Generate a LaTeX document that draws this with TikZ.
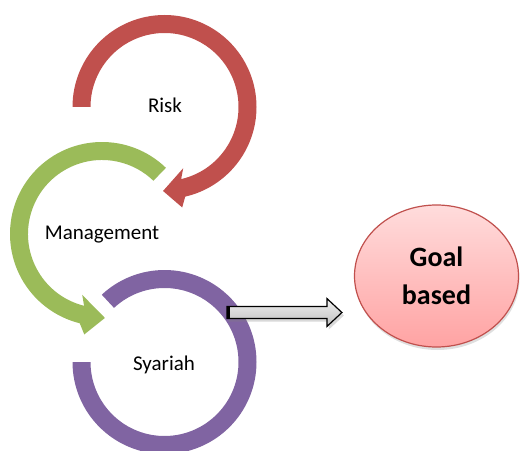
\documentclass[tikz,border=0pt]{standalone}
\usepackage{fontspec}
\setmainfont{Carlito}
\usepackage{xcolor}
\usepackage{tikz}
\usetikzlibrary{calc,shapes,shadows}

\definecolor{riskred}{HTML}{C0504D}
\definecolor{mgmtgreen}{HTML}{9BBB59}
\definecolor{syapurple}{HTML}{8064A2}
\definecolor{goalpink}{HTML}{FFA3A3}
\definecolor{goallight}{HTML}{FFDCDC}

\tikzset{
    ringlabel/.style={font=\fontsize{21}{25}\selectfont, inner sep=0pt},
    goalnode/.style={ellipse, draw=riskred, line width=1.2pt, top color=goallight, bottom color=goalpink,
        minimum width=164pt, minimum height=142pt, inner sep=0pt, align=center,
        font=\fontsize{28}{38}\selectfont\bfseries, drop shadow={opacity=0.25, shadow xshift=1pt, shadow yshift=-3pt}},
    blockarrow/.style={draw=black, line width=1.2pt, top color=black!6, bottom color=black!25,
        drop shadow={opacity=0.3, shadow xshift=2pt, shadow yshift=-3pt}}
}

\begin{document}
\begin{tikzpicture}[x=1pt, y=1pt]
        \useasboundingbox (0,0) rectangle (521,450);
        \coordinate (R) at (164.5,343);
        \coordinate (G) at (102,216);
        \coordinate (P) at (164.5,88);
        % Risk
        \fill[riskred] ($(R)+(180:92)$) arc[start angle=180, end angle=-77, radius=92pt]
            -- ($(R)+(-80:102)$) -- ($(R)+(-91:84)$) -- ($(R)+(-73:64)$)
            -- ($(R)+(-77:74)$) arc[start angle=-77, end angle=180, radius=74pt] -- cycle;
        % Management
        \fill[mgmtgreen] ($(G)+(46:92)$) arc[start angle=46, end angle=256, radius=92pt]
            -- ($(G)+(260:102)$) -- ($(G)+(272:84)$) -- ($(G)+(252:64)$)
            -- ($(G)+(256:74)$) arc[start angle=256, end angle=46, radius=74pt] -- cycle;
        % Syariah
        \fill[syapurple] ($(P)+(180:92)$) arc[start angle=180, end angle=493, radius=92pt]
            -- ($(P)+(493:74)$) arc[start angle=493, end angle=180, radius=74pt] -- cycle;
        \node[ringlabel] (risk) at (165,345) {Risk};
        \node[ringlabel] (mgmt) at (102,215) {Management};
        \node[ringlabel] (syariah) at (164,85) {Syariah};
        \node[goalnode] (goal) at (436.5,174) {Goal\\based};
        \coordinate (out) at (227,137.5);
        \coordinate (in) at ($(goal.west)+(-12,-36.5)$);
        \draw[blockarrow] ($(out)+(0,6)$) -- ($(in)+(-15,6)$) -- ($(in)+(-15,14)$) -- (in)
            -- ($(in)+(-15,-14)$) -- ($(in)+(-15,-6)$) -- ($(out)+(0,-6)$) -- cycle;
        \draw[line width=3pt] ($(out)+(1.5,6)$) -- ($(out)+(1.5,-6)$);
    \end{tikzpicture}
\end{document}
